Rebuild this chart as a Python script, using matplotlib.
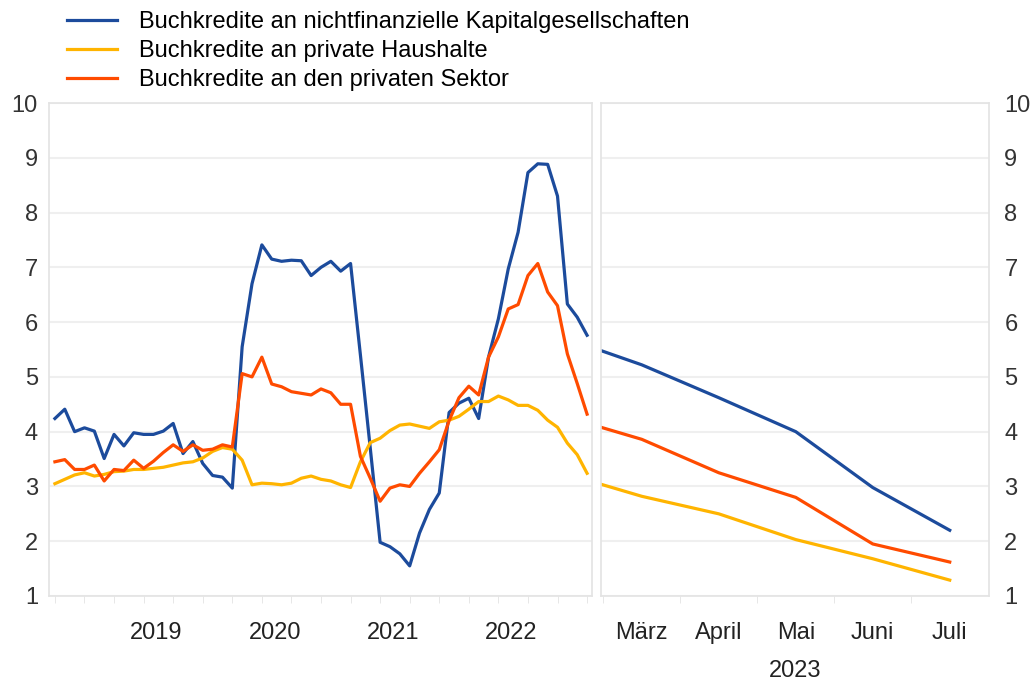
## Buchkredite - Entwicklung und Projektion
import matplotlib
matplotlib.use("Agg")
import matplotlib.pyplot as plt
import numpy as np
import pandas as pd

plt.rcParams["font.family"] = ["Liberation Sans", "DejaVu Sans"]

## ----- data ----- ##

# monthly, Aug 2018 - Feb 2023
months = pd.date_range("2018-08-01", "2023-02-01", freq="MS")

nfc = [4.24, 4.41, 4.00, 4.07, 4.01, 3.51, 3.95, 3.74, 3.98, 3.95, 3.95, 4.01, 4.15,
       3.60, 3.82, 3.42, 3.20, 3.17, 2.97, 5.55, 6.70, 7.41, 7.15, 7.11, 7.13, 7.12,
       6.85, 7.00, 7.11, 6.93, 7.07, 5.40, 3.70, 1.98, 1.90, 1.77, 1.55, 2.15, 2.58,
       2.88, 4.35, 4.52, 4.61, 4.24, 5.36, 6.06, 6.97, 7.64, 8.73, 8.89, 8.88, 8.30,
       6.33, 6.09, 5.76]

households = [3.05, 3.13, 3.21, 3.25, 3.19, 3.22, 3.27, 3.28, 3.31, 3.31, 3.33, 3.35,
              3.39, 3.43, 3.45, 3.52, 3.64, 3.71, 3.68, 3.48, 3.03, 3.06, 3.05, 3.03,
              3.06, 3.15, 3.19, 3.13, 3.10, 3.03, 2.98, 3.45, 3.80, 3.88, 4.02, 4.12,
              4.14, 4.10, 4.06, 4.18, 4.21, 4.28, 4.41, 4.55, 4.55, 4.65, 4.58, 4.48,
              4.48, 4.39, 4.21, 4.08, 3.79, 3.58, 3.24]

private = [3.45, 3.49, 3.31, 3.31, 3.39, 3.10, 3.31, 3.29, 3.48, 3.33, 3.46, 3.62, 3.76,
           3.64, 3.76, 3.66, 3.68, 3.76, 3.72, 5.06, 5.00, 5.36, 4.87, 4.82, 4.73, 4.70,
           4.67, 4.78, 4.71, 4.50, 4.50, 3.55, 3.15, 2.73, 2.97, 3.03, 3.00, 3.24, 3.45,
           3.67, 4.20, 4.62, 4.83, 4.67, 5.36, 5.73, 6.24, 6.32, 6.85, 7.07, 6.55, 6.30,
           5.42, 4.88, 4.32]

# 2023 (first value sits half a month before March)
month_labels = ["März", "April", "Mai", "Juni", "Juli"]
nfc_23 = [5.48, 5.22, 4.62, 4.00, 2.98, 2.20]
households_23 = [3.04, 2.82, 2.50, 2.03, 1.68, 1.29]
private_23 = [4.08, 3.86, 3.25, 2.80, 1.95, 1.62]

labels = ["Buchkredite an nichtfinanzielle Kapitalgesellschaften",
          "Buchkredite an private Haushalte",
          "Buchkredite an den privaten Sektor"]
colors = ["#1c4b9c", "#ffb400", "#ff4b00"]

FS = 17

## ----- figure ----- ##

fig = plt.figure(figsize=(10.34, 6.84), dpi=100)
ax1 = fig.add_axes([49 / 1034, 88 / 684, 543 / 1034, 493 / 684])
ax2 = fig.add_axes([601 / 1034, 88 / 684, 388 / 1034, 493 / 684])

x1 = np.arange(len(months))
for series, c, lab in zip([nfc, households, private], colors, labels):
    ax1.plot(x1, series, color=c, lw=2.3, label=lab, solid_joinstyle="round")

x2 = np.concatenate([[-0.53], np.arange(len(month_labels))])
for series, c in zip([nfc_23, households_23, private_23], colors):
    ax2.plot(x2, series, color=c, lw=2.3, solid_joinstyle="round")

# year labels near mid-year
years = [2019, 2020, 2021, 2022]
year_pos = [int(np.where((months.year == y) & (months.month == 6))[0][0]) for y in years]

for ax in (ax1, ax2):
    ax.set_ylim(1, 10)
    ax.set_yticks(range(1, 11))
    ax.grid(axis="y", color="#efefef", lw=1.5)
    ax.set_axisbelow(True)
    for sp in ax.spines.values():
        sp.set_color("#e3e3e3")
        sp.set_linewidth(1.2)
    ax.tick_params(axis="y", length=0, labelsize=FS, colors="#333333", pad=8)
    ax.tick_params(axis="x", which="major", length=0, labelsize=FS, colors="#222222", pad=19)
    ax.tick_params(axis="x", which="minor", length=5, color="#e3e3e3")

ax1.set_xlim(-0.6, len(months) - 0.5)
ax1.set_xticks(np.array(year_pos) + 0.3)
ax1.set_xticklabels([str(y) for y in years])
ax1.set_xticks(np.arange(0, len(months), 3), minor=True)

ax2.set_xlim(-0.53, len(month_labels) - 0.49)
ax2.set_xticks(np.arange(len(month_labels)))
ax2.set_xticklabels(month_labels)
ax2.set_xticks(np.arange(len(month_labels)) - 0.5, minor=True)
ax2.yaxis.tick_right()
ax2.tick_params(axis="y", pad=11)
ax2.text(0.5, -0.152, "2023", transform=ax2.transAxes, ha="center", va="center",
         fontsize=FS, color="#222222")

fig.legend(loc="upper left", bbox_to_anchor=(67 / 1034, 1 - 11 / 684), frameon=False,
           fontsize=FS, handlelength=2.1, handletextpad=0.93, labelspacing=0.3,
           borderpad=0, borderaxespad=0)

fig.savefig("out.png", dpi=100)
